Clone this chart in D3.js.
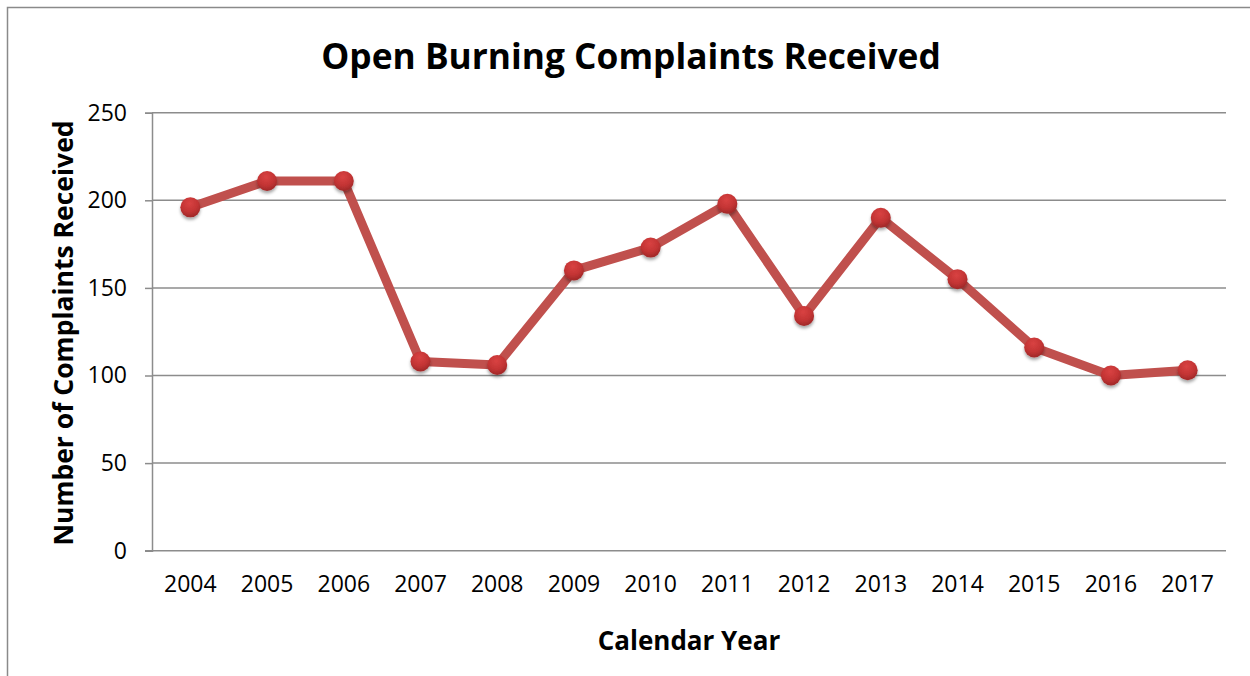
<!doctype html>
<html lang="en">
<head>
<meta charset="UTF-8" />
<title>Open Burning Complaints Received</title>
<script src="https://d3js.org/d3.v7.min.js"></script>
<style>
  html,body{margin:0;padding:0;background:#fff;}
  svg{display:block;font-family:"Open Sans","Noto Sans",Arial,sans-serif;}
</style>
</head>
<body>
<div id="chart"></div>
<script>
  /* ---------- data ---------- */
  const years = ['2004','2005','2006','2007','2008','2009','2010','2011','2012','2013','2014','2015','2016','2017'];
  const complaints = [196, 211, 211, 108, 106, 160, 173, 198, 134, 190, 155, 116, 100, 103];
  const yTicks = [0, 50, 100, 150, 200, 250];

  /* ---------- geometry ---------- */
  const W = 1250, H = 676;
  const plot = {left: 152, right: 1226, top: 112.7, bottom: 550.7};

  const svg = d3.select('#chart').append('svg')
    .attr('width', W).attr('height', H);

  const defs = svg.append('defs');
  const grad = defs.append('radialGradient').attr('id', 'dot')
    .attr('cx', '45%').attr('cy', '30%').attr('r', '70%');
  grad.append('stop').attr('offset', '0%').attr('stop-color', '#d94242');
  grad.append('stop').attr('offset', '60%').attr('stop-color', '#c33434');
  grad.append('stop').attr('offset', '100%').attr('stop-color', '#9f2828');
  const shadow = defs.append('filter').attr('id', 'shadow')
    .attr('x', '-50%').attr('y', '-50%').attr('width', '200%').attr('height', '200%');
  shadow.append('feDropShadow').attr('dx', 0).attr('dy', 2.5)
    .attr('stdDeviation', 1.6).attr('flood-color', '#000').attr('flood-opacity', 0.35);

  /* chart frame */
  svg.append('path')
    .attr('d', `M7.5,${H} V7.5 H${W}`)
    .attr('fill', 'none').attr('stroke', '#8a8a8a').attr('stroke-width', 1.5);

  /* ---------- scales ---------- */
  const x = d3.scaleBand().domain(years).range([plot.left, plot.right]);
  const y = d3.scaleLinear().domain([0, 250]).range([plot.bottom, plot.top]);

  /* gridlines */
  svg.append('g').selectAll('line').data(yTicks.filter(d => d > 0)).join('line')
    .attr('x1', plot.left).attr('x2', plot.right)
    .attr('y1', d => y(d)).attr('y2', d => y(d))
    .attr('stroke', '#8c8c8c').attr('stroke-width', 1.5);

  /* y axis */
  const gy = svg.append('g').attr('transform', `translate(${plot.left},0)`)
    .call(d3.axisLeft(y).tickValues(yTicks).tickSize(7).tickPadding(18));
  gy.select('.domain').attr('stroke', '#8c8c8c').attr('stroke-width', 1.5);
  gy.selectAll('.tick line').attr('stroke', '#8c8c8c').attr('stroke-width', 1.5);
  gy.selectAll('.tick text').attr('font-size', 23).attr('fill', '#000')
    .attr('font-family', '"Open Sans",sans-serif');

  /* x axis */
  const gx = svg.append('g').attr('transform', `translate(0,${plot.bottom})`)
    .call(d3.axisBottom(x).tickSize(0).tickPadding(25));
  gx.select('.domain').attr('stroke', '#8c8c8c').attr('stroke-width', 1.5)
    .attr('d', `M${plot.left - 7},0H${plot.right}`);
  gx.selectAll('.tick text').attr('font-size', 23).attr('fill', '#000')
    .attr('font-family', '"Open Sans",sans-serif');

  /* ---------- series ---------- */
  const cx = d => x(d) + x.bandwidth() / 2;
  const line = d3.line().x((d, i) => cx(years[i])).y(d => y(d));

  svg.append('path').datum(complaints)
    .attr('d', line)
    .attr('fill', 'none').attr('stroke', '#c0504d').attr('stroke-width', 9)
    .attr('stroke-linejoin', 'round');

  svg.append('g').selectAll('circle').data(complaints).join('circle')
    .attr('cx', (d, i) => cx(years[i])).attr('cy', d => y(d))
    .attr('r', 10).attr('fill', 'url(#dot)').attr('filter', 'url(#shadow)');

  /* ---------- titles ---------- */
  svg.append('text')
    .attr('x', 631).attr('y', 69).attr('text-anchor', 'middle')
    .attr('font-size', 35.3).attr('font-weight', 700)
    .text('Open Burning Complaints Received');

  svg.append('text')
    .attr('transform', `translate(73,333) rotate(-90)`)
    .attr('text-anchor', 'middle')
    .attr('font-size', 26.5).attr('font-weight', 700)
    .text('Number of Complaints Received');

  svg.append('text')
    .attr('x', 689).attr('y', 650).attr('text-anchor', 'middle')
    .attr('font-size', 26).attr('font-weight', 700)
    .text('Calendar Year');
</script>
</body>
</html>
